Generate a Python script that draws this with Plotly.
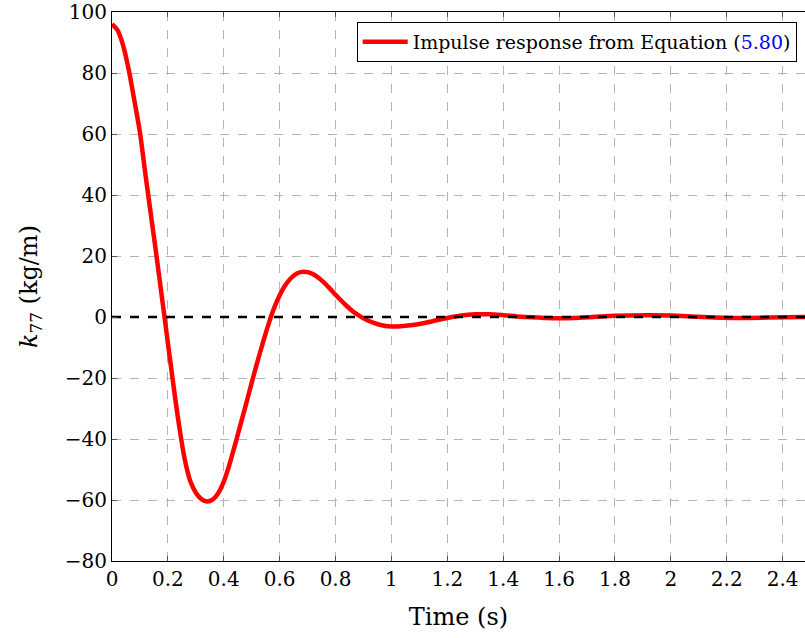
import plotly.graph_objects as go

# Time samples (s) and impulse response values k77 (kg/m)
time_s = [0.00, 0.02, 0.04, 0.06, 0.08, 0.10, 0.12, 0.14, 0.16, 0.18,
          0.20, 0.22, 0.24, 0.26, 0.28, 0.30, 0.32, 0.34, 0.36, 0.38,
          0.40, 0.42, 0.44, 0.46, 0.48, 0.50, 0.52, 0.54, 0.56, 0.58,
          0.60, 0.62, 0.64, 0.66, 0.68, 0.70, 0.72, 0.74, 0.76, 0.78,
          0.80, 0.82, 0.84, 0.86, 0.88, 0.90, 0.92, 0.94, 0.96, 0.98,
          1.00, 1.02, 1.05, 1.10, 1.15, 1.20, 1.25, 1.30, 1.35, 1.40,
          1.45, 1.50, 1.58, 1.65, 1.72, 1.80, 1.91, 2.00, 2.10, 2.23,
          2.35, 2.48]
k77 = [96.0, 94.0, 89.0, 81.0, 71.0, 60.5, 46.5, 33.0, 19.5, 5.5,
       -8.5, -22.5, -35.5, -46.5, -53.8, -57.6, -59.7, -60.5, -59.9, -57.8,
       -54.0, -48.5, -42.0, -35.2, -28.5, -21.5, -14.8, -8.4, -2.4, 2.9,
       7.1, 10.4, 12.7, 14.2, 14.8, 14.7, 14.0, 12.8, 11.2, 9.3,
       7.3, 5.4, 3.6, 2.0, 0.7, -0.4, -1.3, -2.0, -2.6, -2.95,
       -3.1, -3.1, -2.9, -2.3, -1.3, -0.3, 0.5, 0.9, 0.9, 0.6,
       0.2, -0.1, -0.4, -0.3, 0.0, 0.4, 0.6, 0.5, 0.1, -0.3,
       -0.2, 0.0]

zero_x = [0.0, 2.48]
zero_y = [0.0, 0.0]

legend_label = "Impulse response from Equation (<span style='color:#0000ff'>5.80</span>)"

FONT = "DejaVu Serif, Liberation Serif, serif"

fig = go.Figure()
fig.add_trace(go.Scatter(
    x=time_s, y=k77, mode="lines",
    line=dict(color="#ff0000", width=4.5, shape="spline", smoothing=0.8),
    name=legend_label))
fig.add_trace(go.Scatter(
    x=zero_x, y=zero_y, mode="lines", line=dict(color="black", width=2.5, dash="dash"),
    showlegend=False, hoverinfo="skip"))

fig.update_layout(
    width=805, height=638,
    margin=dict(l=112, r=0, t=12, b=77),
    paper_bgcolor="white", plot_bgcolor="white",
    font=dict(family=FONT, size=20, color="black"),
    showlegend=True,
    legend=dict(x=0.988, y=0.982, xanchor="right", yanchor="top",
                bordercolor="black", borderwidth=1, bgcolor="white",
                font=dict(size=19), itemwidth=45),
    xaxis=dict(range=[0, 2.48], dtick=0.2, tick0=0,
               showgrid=True, gridcolor="#b4b4b4", griddash="dash", gridwidth=1,
               showline=True, linecolor="black", linewidth=1.2, mirror="ticks",
               ticks="inside", ticklen=5, tickcolor="#555555",
               zeroline=False,
               title=dict(text="Time (s)", standoff=18)),
    yaxis=dict(range=[-80, 100], dtick=20, tick0=0,
               showgrid=True, gridcolor="#b4b4b4", griddash="dash", gridwidth=1,
               showline=True, linecolor="black", linewidth=1.2, mirror=False,
               ticks="inside", ticklen=5, tickcolor="#555555",
               zeroline=False,
               title=dict(text="<i>k</i><sub>77</sub> (kg/m)", standoff=20)),
)

fig.write_html("out.html")
